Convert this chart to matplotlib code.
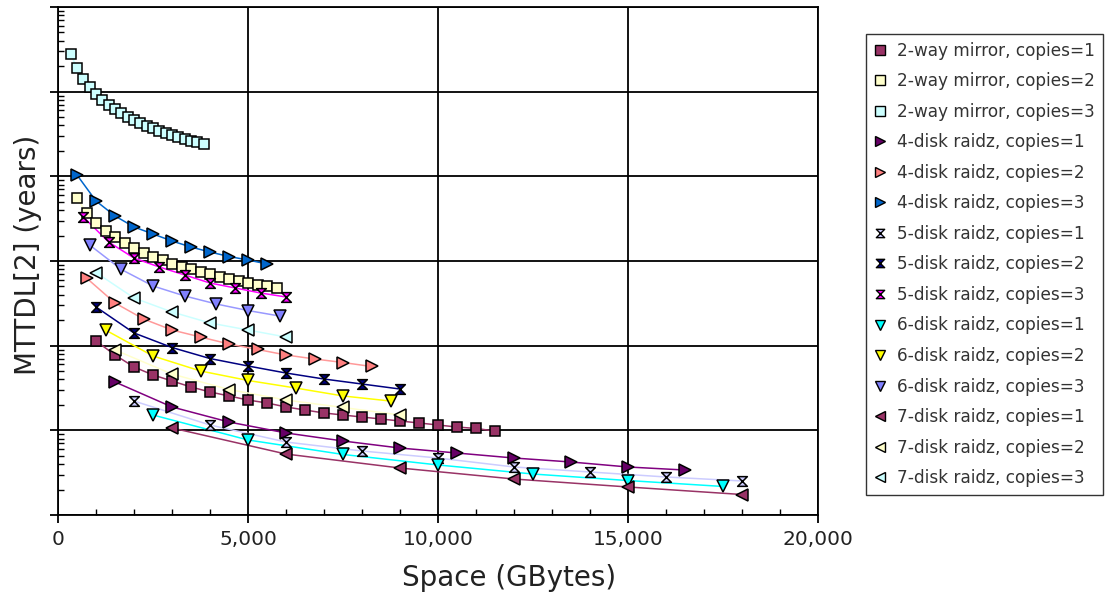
import matplotlib
matplotlib.use("Agg")
import numpy as np
import matplotlib.pyplot as plt
from matplotlib.path import Path
from matplotlib.lines import Line2D
from matplotlib.ticker import FuncFormatter, MultipleLocator, LogLocator, NullFormatter

# ---------------- data (x = usable space in GBytes, y = log10 of MTTDL[2] in years) -------------
x_mirror_c1 = [1000, 1500, 2000, 2500, 3000, 3500, 4000, 4500, 5000, 5500, 6000,
               6500, 7000, 7500, 8000, 8500, 9000, 9500, 10000, 10500, 11000, 11500]
y_mirror_c1 = [2.055, 1.890, 1.748, 1.654, 1.583, 1.512, 1.453, 1.406, 1.358, 1.323, 1.276,
               1.240, 1.205, 1.181, 1.157, 1.134, 1.110, 1.087, 1.063, 1.039, 1.022, 0.992]
x_mirror_c2 = [500, 750, 1000, 1250, 1500, 1750, 2000, 2250, 2500, 2750, 3000,
               3250, 3500, 3750, 4000, 4250, 4500, 4750, 5000, 5250, 5500, 5750]
y_mirror_c2 = [3.744, 3.567, 3.449, 3.354, 3.278, 3.213, 3.154, 3.094, 3.047, 3.006, 2.965,
               2.929, 2.900, 2.870, 2.841, 2.811, 2.787, 2.764, 2.740, 2.722, 2.705, 2.681]
x_mirror_c3 = [333, 500, 667, 833, 1000, 1167, 1333, 1500, 1667, 1833, 2000,
               2167, 2333, 2500, 2667, 2833, 3000, 3167, 3333, 3500, 3667, 3833]
y_mirror_c3 = [5.445, 5.279, 5.149, 5.055, 4.972, 4.901, 4.848, 4.795, 4.748, 4.701, 4.665,
               4.630, 4.600, 4.571, 4.541, 4.512, 4.488, 4.465, 4.441, 4.417, 4.400, 4.382]

x_r4_c1 = [1500, 3000, 4500, 6000, 7500, 9000, 10500, 12000, 13500, 15000, 16500]
y_r4_c1 = [1.571, 1.276, 1.098, 0.969, 0.874, 0.791, 0.732, 0.673, 0.626, 0.567, 0.531]
x_r4_c2 = [750, 1500, 2250, 3000, 3750, 4500, 5250, 6000, 6750, 7500, 8250]
y_r4_c2 = [2.799, 2.504, 2.315, 2.185, 2.102, 2.020, 1.955, 1.890, 1.843, 1.801, 1.754]
x_r4_c3 = [500, 1000, 1500, 2000, 2500, 3000, 3500, 4000, 4500, 5000, 5500]
y_r4_c3 = [4.016, 3.709, 3.532, 3.402, 3.319, 3.236, 3.165, 3.106, 3.053, 3.012, 2.965]

x_r5_c1 = [2000, 4000, 6000, 8000, 10000, 12000, 14000, 16000, 18000]
y_r5_c1 = [1.346, 1.063, 0.862, 0.756, 0.673, 0.567, 0.508, 0.449, 0.402]
x_r5_c2 = [1000, 2000, 3000, 4000, 5000, 6000, 7000, 8000, 9000]
y_r5_c2 = [2.457, 2.150, 1.978, 1.848, 1.760, 1.677, 1.606, 1.547, 1.488]
x_r5_c3 = [667, 1333, 2000, 2667, 3333, 4000, 4667, 5333, 6000]
y_r5_c3 = [3.520, 3.224, 3.035, 2.929, 2.835, 2.740, 2.681, 2.622, 2.575]

x_r6_c1 = [2500, 5000, 7500, 10000, 12500, 15000, 17500]
y_r6_c1 = [1.181, 0.886, 0.715, 0.591, 0.484, 0.407, 0.337]
x_r6_c2 = [1250, 2500, 3750, 5000, 6250, 7500, 8750]
y_r6_c2 = [2.185, 1.878, 1.701, 1.589, 1.500, 1.406, 1.346]
x_r6_c3 = [833, 1667, 2500, 3333, 4167, 5000, 5833]
y_r6_c3 = [3.189, 2.900, 2.705, 2.587, 2.492, 2.415, 2.350]

x_r7_c1 = [3000, 6000, 9000, 12000, 15000, 18000]
y_r7_c1 = [1.028, 0.720, 0.555, 0.425, 0.331, 0.242]
x_r7_c2 = [1500, 3000, 4500, 6000, 7500, 9000]
y_r7_c2 = [1.949, 1.665, 1.482, 1.358, 1.270, 1.181]
x_r7_c3 = [1000, 2000, 3000, 4000, 5000, 6000]
y_r7_c3 = [2.864, 2.563, 2.398, 2.268, 2.185, 2.102]

labels = ["2-way mirror, copies=1", "2-way mirror, copies=2", "2-way mirror, copies=3",
          "4-disk raidz, copies=1", "4-disk raidz, copies=2", "4-disk raidz, copies=3",
          "5-disk raidz, copies=1", "5-disk raidz, copies=2", "5-disk raidz, copies=3",
          "6-disk raidz, copies=1", "6-disk raidz, copies=2", "6-disk raidz, copies=3",
          "7-disk raidz, copies=1", "7-disk raidz, copies=2", "7-disk raidz, copies=3"]
xs = [x_mirror_c1, x_mirror_c2, x_mirror_c3, x_r4_c1, x_r4_c2, x_r4_c3,
      x_r5_c1, x_r5_c2, x_r5_c3, x_r6_c1, x_r6_c2, x_r6_c3, x_r7_c1, x_r7_c2, x_r7_c3]
ys = [y_mirror_c1, y_mirror_c2, y_mirror_c3, y_r4_c1, y_r4_c2, y_r4_c3,
      y_r5_c1, y_r5_c2, y_r5_c3, y_r6_c1, y_r6_c2, y_r6_c3, y_r7_c1, y_r7_c2, y_r7_c3]

colors = ["#993366", "#FFFFCC", "#CCFFFF", "#660066", "#FF8080", "#0066CC",
          "#CCCCFF", "#000080", "#FF00FF", "#00FFFF", "#FFFF00", "#8080FF",
          "#993366", "#FFFFCC", "#CCFFFF"]
line_colors = ["#993366", "#FFFFCC", "#CCFFFF", "#800080", "#FF9999", "#0066CC",
               "#CCCCFF", "#000080", "#FF00FF", "#00FFFF", "#FFFF00", "#9999FF",
               "#993366", "#FFFFCC", "#CCFFFF"]

hourglass = Path([(-1, 1), (1, 1), (-1, -1), (1, -1), (-1, 1)],
                 [Path.MOVETO, Path.LINETO, Path.LINETO, Path.LINETO, Path.CLOSEPOLY])
markers = ["s", "s", "s", ">", ">", ">", hourglass, hourglass, hourglass,
           "v", "v", "v", "<", "<", "<"]
msizes = [7.2, 7.2, 7.2, 8, 8, 8, 7, 7, 7, 8, 8, 8, 8, 8, 8]

# ---------------- figure ----------------
W, H = 1109, 596
fig = plt.figure(figsize=(W / 100, H / 100), dpi=100)
ax = fig.add_axes([58 / W, 1 - 515 / H, (818 - 58) / W, (515 - 7) / H])

for x, y, lc in zip(xs, ys, line_colors):
    ax.plot(x, 10 ** np.array(y), color=lc, lw=1.1, zorder=3)
for x, y, c, m, ms in zip(xs, ys, colors, markers, msizes):
    ax.plot(x, 10 ** np.array(y), linestyle="none", marker=m, markersize=ms,
            markerfacecolor=c, markeredgecolor="black", markeredgewidth=1.1, zorder=4)

ax.set_yscale("log")
ax.set_xlim(0, 20000)
ax.set_ylim(1, 1e6)

ax.xaxis.set_major_locator(MultipleLocator(5000))
ax.xaxis.set_minor_locator(MultipleLocator(1000))
ax.xaxis.set_major_formatter(FuncFormatter(lambda v, p: f"{int(v):,}"))
ax.yaxis.set_major_locator(LogLocator(base=10, numticks=10))
ax.yaxis.set_minor_locator(LogLocator(base=10, subs=np.arange(2, 10), numticks=20))
ax.yaxis.set_major_formatter(NullFormatter())
ax.yaxis.set_minor_formatter(NullFormatter())

ax.grid(True, which="major", color="black", linewidth=1.3, zorder=1)
ax.set_axisbelow(True)
for s in ax.spines.values():
    s.set_linewidth(1.3)
    s.set_color("black")

ax.tick_params(which="major", direction="out", length=6, width=1.3, color="black",
               labelsize=14.5, labelcolor="#222222", pad=5)
ax.tick_params(which="minor", direction="in", length=4, width=1.0, color="black")

ax.set_xlabel("Space (GBytes)", fontsize=20, color="#222222")
ax.set_ylabel("MTTDL[2] (years)", fontsize=20, color="#222222")
ax.xaxis.set_label_coords((509 - 58) / 760, -0.125)
ax.yaxis.set_label_coords((28 - 58) / 760, (515 - 255) / 508)
ax.xaxis.label.set_verticalalignment("center")
ax.yaxis.label.set_verticalalignment("center")

handles = [Line2D([], [], linestyle="none", marker=m, markersize=(6 if m is hourglass else 6.5),
                  markerfacecolor=c, markeredgecolor="black", markeredgewidth=1.0)
           for c, m in zip(colors, markers)]
leg = fig.legend(handles, labels, loc="upper left", bbox_to_anchor=(866 / W, 1 - 34 / H),
                 bbox_transform=fig.transFigure, fontsize=12.2, frameon=True, fancybox=False,
                 edgecolor="black", handlelength=0.8, handletextpad=0.6, labelspacing=0.74,
                 borderpad=0.45, borderaxespad=0)
leg.get_frame().set_linewidth(1.0)
for t in leg.get_texts():
    t.set_color("#333333")

fig.savefig("out.png", dpi=100)
